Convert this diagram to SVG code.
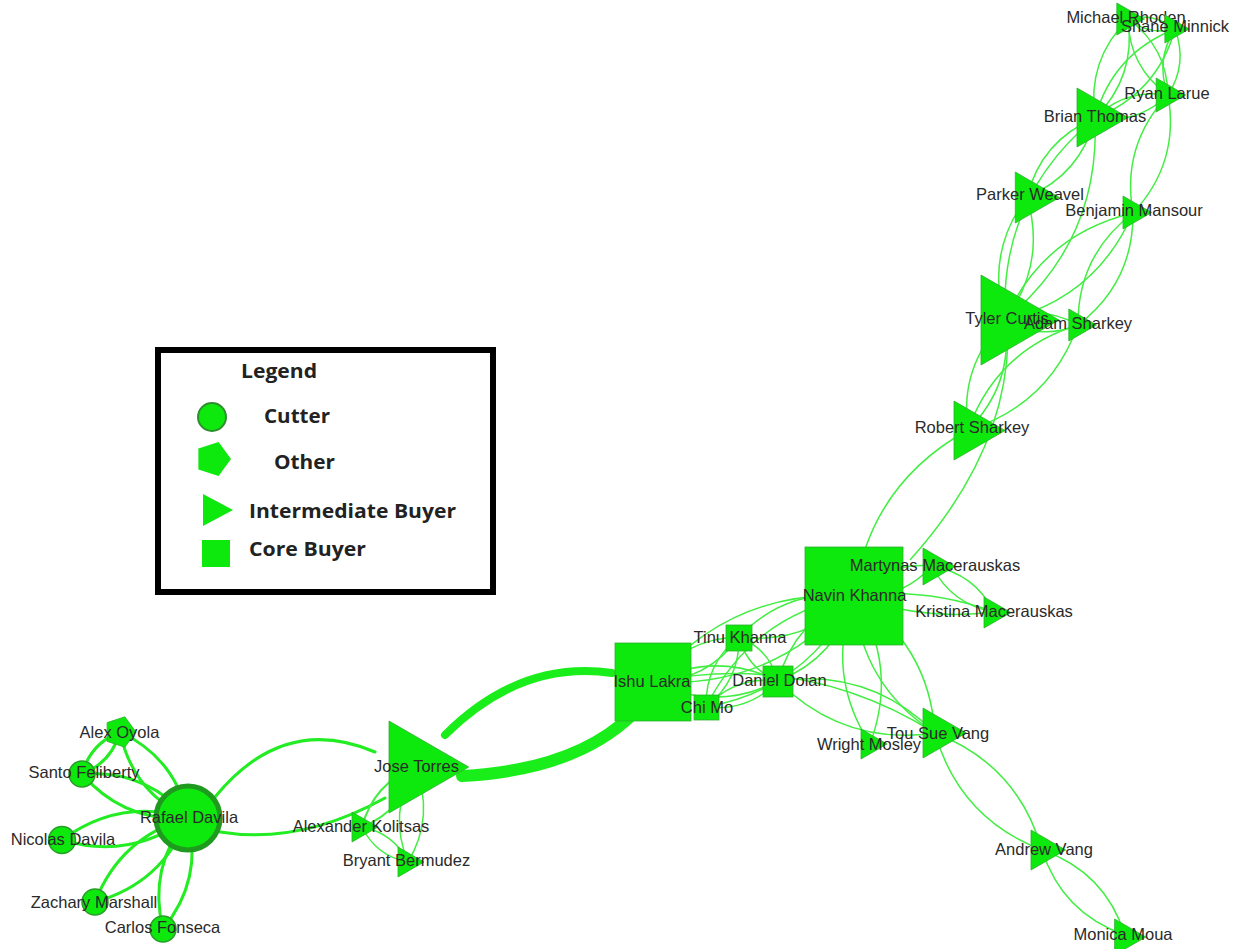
<svg xmlns="http://www.w3.org/2000/svg" width="1241" height="949" viewBox="0 0 1241 949">
<style>
.e{fill:none;stroke:#42ee42;stroke-width:1.5}
.e2{fill:none;stroke:#22ec22;stroke-width:3;stroke-linecap:round}
.e3{fill:none;stroke:#1aee1a;stroke-linecap:round}
.n{fill:#0de80d;stroke:#30b030;stroke-width:0.8}
.c{fill:#0de80d;stroke:#2a9c2a;stroke-width:1.5}
.t{font-family:"Liberation Sans",Arial,sans-serif;font-size:16.5px;fill:#2a2a2a;text-anchor:middle;dominant-baseline:central}
.lg{font-family:"Open Sans","Liberation Sans",sans-serif;font-weight:bold;font-size:20px;fill:#222}
</style>
<rect width="1241" height="949" fill="#ffffff"/>
<g id="connectors">
<path class="e" d="M1128 19 Q1149 35.75 1175 29"/>
<path class="e" d="M1128 19 Q1154 12.25 1175 29"/>
<path class="e" d="M1128 19 Q1129 67 1168 95"/>
<path class="e" d="M1128 19 Q1167 47 1168 95"/>
<path class="e" d="M1128 19 Q1086.75 60.25 1095 118"/>
<path class="e" d="M1128 19 Q1136.25 76.75 1095 118"/>
<path class="e" d="M1175 29 Q1155 60.25 1168 95"/>
<path class="e" d="M1175 29 Q1188 63.75 1168 95"/>
<path class="e" d="M1175 29 Q1112.75 53.5 1095 118"/>
<path class="e" d="M1175 29 Q1157.25 93.5 1095 118"/>
<path class="e" d="M1168 95 Q1125.75 88.25 1095 118"/>
<path class="e" d="M1168 95 Q1137.25 124.75 1095 118"/>
<path class="e" d="M1095 118 Q1041.25 140.5 1027 197"/>
<path class="e" d="M1095 118 Q1080.75 174.5 1027 197"/>
<path class="e" d="M1095 118 Q999.5 196.5 1005 320"/>
<path class="e" d="M1095 118 Q1100.5 241.5 1005 320"/>
<path class="e" d="M1168 95 Q1121 145.25 1133 213"/>
<path class="e" d="M1168 95 Q1180 162.75 1133 213"/>
<path class="e" d="M1133 213 Q1042.25 234.5 1005 320"/>
<path class="e" d="M1133 213 Q1095.75 298.5 1005 320"/>
<path class="e" d="M1133 213 Q1077.5 255.25 1078 325"/>
<path class="e" d="M1133 213 Q1133.5 282.75 1078 325"/>
<path class="e" d="M1027 197 Q985.25 253 1005 320"/>
<path class="e" d="M1027 197 Q1046.75 264 1005 320"/>
<path class="e" d="M1005 320 Q1040.25 340.75 1078 325"/>
<path class="e" d="M1005 320 Q1042.75 304.25 1078 325"/>
<path class="e" d="M1005 320 Q959 365.75 968 430"/>
<path class="e" d="M1005 320 Q1014 384.25 968 430"/>
<path class="e" d="M1078 325 Q996.75 350 968 430"/>
<path class="e" d="M1078 325 Q1049.25 405 968 430"/>
<path class="e" d="M968 430 Q869.5 484.5 854 596"/>
<path class="e" d="M1008 340 Q1005.5 454 910 560"/>
<path class="e" d="M854 596 Q900.5 600.5 932 566"/>
<path class="e" d="M854 596 Q885.5 561.5 932 566"/>
<path class="e" d="M854 596 Q922 621 994 612"/>
<path class="e" d="M854 596 Q926 587 994 612"/>
<path class="e" d="M932 566 Q951.5 604.5 994 612"/>
<path class="e" d="M932 566 Q974.5 573.5 994 612"/>
<path class="e" d="M854 596 Q786.25 587.75 739 637"/>
<path class="e" d="M854 596 Q806.75 645.25 739 637"/>
<path class="e" d="M854 596 Q794.75 619.5 778 681"/>
<path class="e" d="M854 596 Q837.25 657.5 778 681"/>
<path class="e" d="M854 596 Q732 588.75 653 682"/>
<path class="e" d="M854 596 Q775 689.25 653 682"/>
<path class="e" d="M854 596 Q752.25 614.5 706 707"/>
<path class="e" d="M854 596 Q807.75 688.5 706 707"/>
<path class="e" d="M854 596 Q825 674 870 744"/>
<path class="e" d="M854 596 Q899 666 870 744"/>
<path class="e" d="M854 596 Q860.25 684.75 935 733"/>
<path class="e" d="M854 596 Q928.75 644.25 935 733"/>
<path class="e" d="M653 682 Q707.25 681 739 637"/>
<path class="e" d="M653 682 Q684.75 638 739 637"/>
<path class="e" d="M653 682 Q715.75 712.75 778 681"/>
<path class="e" d="M653 682 Q715.25 650.25 778 681"/>
<path class="e" d="M739 637 Q747.5 668.75 778 681"/>
<path class="e" d="M739 637 Q769.5 649.25 778 681"/>
<path class="e" d="M739 637 Q705 663.75 706 707"/>
<path class="e" d="M739 637 Q740 680.25 706 707"/>
<path class="e" d="M778 681 Q735.5 676 706 707"/>
<path class="e" d="M778 681 Q748.5 712 706 707"/>
<path class="e" d="M653 682 Q804 651 935 733"/>
<path class="e" d="M778 681 Q843.5 746.25 935 733"/>
<path class="e" d="M778 681 Q869.5 667.75 935 733"/>
<path class="e" d="M935 733 Q959.25 818.25 1042 850"/>
<path class="e" d="M935 733 Q1017.75 764.75 1042 850"/>
<path class="e" d="M1042 850 Q1062.25 913.25 1125 935"/>
<path class="e" d="M1042 850 Q1104.75 871.75 1125 935"/>
<path class="e2" d="M188 818 Q175.5 758 120 732"/>
<path class="e2" d="M188 818 Q132.5 792 120 732"/>
<path class="e2" d="M188 818 Q146 769.5 82 774"/>
<path class="e2" d="M188 818 Q124 822.5 82 774"/>
<path class="e2" d="M188 818 Q119.5 797.5 62 840"/>
<path class="e2" d="M188 818 Q130.5 860.5 62 840"/>
<path class="e2" d="M188 818 Q120.5 836.75 95 902"/>
<path class="e2" d="M188 818 Q162.5 883.25 95 902"/>
<path class="e2" d="M188 818 Q147.75 867.25 163 929"/>
<path class="e2" d="M188 818 Q203.25 879.75 163 929"/>
<path class="e2" d="M120 732 Q90.5 743.5 82 774"/>
<path class="e2" d="M120 732 Q111.5 762.5 82 774"/>
<path class="e2" d="M215 797 Q283.65 713 375 752"/>
<path class="e2" d="M220 832 Q300 845 385 798"/>
<path class="e" style="stroke-width:2" d="M415 767 Q373.5 783.75 362 827"/>
<path class="e" style="stroke-width:2" d="M415 767 Q403.5 810.25 362 827"/>
<path class="e" d="M362 827 Q376.25 856 408 862"/>
<path class="e" d="M362 827 Q393.75 833 408 862"/>
<path class="e" d="M415 767 Q387.75 812.75 408 862"/>
<path class="e" d="M415 767 Q435.25 816.25 408 862"/>
<path class="e3" style="stroke-width:8" d="M445 735 Q520 660 612 673"/>
<path class="e3" style="stroke-width:12" d="M462 776 Q575 770 632 715"/>
</g>
<g id="legend">
<rect x="158" y="350" width="335" height="242" fill="#ffffff" stroke="#000000" stroke-width="6"/>
<text class="lg" x="241" y="378" textLength="76" lengthAdjust="spacingAndGlyphs">Legend</text>
<circle cx="212" cy="417" r="14" fill="#0de80d" stroke="#2d8f2d" stroke-width="2"/>
<text class="lg" x="264" y="423" textLength="66" lengthAdjust="spacingAndGlyphs">Cutter</text>
<polygon points="231,459 218.6,476.1 198.4,469.6 198.4,448.4 218.6,441.9" fill="#0de80d"/>
<text class="lg" x="274" y="469" textLength="61" lengthAdjust="spacingAndGlyphs">Other</text>
<polygon points="203,494 233,510 203,526" fill="#0de80d"/>
<text class="lg" x="249" y="518" textLength="207" lengthAdjust="spacingAndGlyphs">Intermediate Buyer</text>
<rect x="202" y="540" width="28" height="27" fill="#0de80d"/>
<text class="lg" x="249" y="556" textLength="117" lengthAdjust="spacingAndGlyphs">Core Buyer</text>
</g>
<g id="node-michael-rhoden"><polygon class="n" points="1116.8,3 1144.5,19 1116.8,35"/><text class="t" x="1126" y="17">Michael Rhoden</text></g>
<g id="node-shane-minnick"><polygon class="n" points="1164.9,15 1189.2,29 1164.9,43"/><text class="t" x="1175" y="26">Shane Minnick</text></g>
<g id="node-ryan-larue"><polygon class="n" points="1156.2,78 1185.6,95 1156.2,112"/><text class="t" x="1167" y="93">Ryan Larue</text></g>
<g id="node-brian-thomas"><polygon class="n" points="1077,88 1128.1,117.5 1077,147"/><text class="t" x="1095" y="116">Brian Thomas</text></g>
<g id="node-parker-weavel"><polygon class="n" points="1015.3,172 1059.4,197.5 1015.3,223"/><text class="t" x="1030" y="194">Parker Weavel</text></g>
<g id="node-benjamin-mansour"><polygon class="n" points="1123,196 1151.6,212.5 1123,229"/><text class="t" x="1134" y="210">Benjamin Mansour</text></g>
<g id="node-tyler-curtis"><polygon class="n" points="981,275 1059,320 981,365"/><text class="t" x="1007" y="318">Tyler Curtis</text></g>
<g id="node-adam-sharkey"><polygon class="n" points="1068.8,309 1096.5,325 1068.8,341"/><text class="t" x="1078" y="323">Adam Sharkey</text></g>
<g id="node-robert-sharkey"><polygon class="n" points="954,401 1005.1,430.5 954,460"/><text class="t" x="972" y="427">Robert Sharkey</text></g>
<g id="node-navin-khanna"><rect class="n" x="805" y="547" width="98" height="98"/><text class="t" x="854.5" y="595">Navin Khanna</text></g>
<g id="node-martynas-macerauskas"><polygon class="n" points="923,548 955.1,566.5 923,585"/><text class="t" x="935" y="565">Martynas Macerauskas</text></g>
<g id="node-kristina-macerauskas"><polygon class="n" points="984,597 1010.9,612.5 984,628"/><text class="t" x="994" y="611">Kristina Macerauskas</text></g>
<g id="node-ishu-lakra"><rect class="n" x="615" y="643" width="76" height="78"/><text class="t" x="652" y="681">Ishu Lakra</text></g>
<g id="node-tinu-khanna"><rect class="n" x="726" y="625" width="26" height="26"/><text class="t" x="740" y="637">Tinu Khanna</text></g>
<g id="node-chi-mo"><rect class="n" x="694" y="695" width="25" height="25"/><text class="t" x="707" y="707">Chi Mo</text></g>
<g id="node-daniel-dolan"><rect class="n" x="763" y="666" width="30" height="31"/><text class="t" x="779.5" y="680">Daniel Dolan</text></g>
<g id="node-wright-mosley"><polygon class="n" points="861,729 887,744 861,759"/><text class="t" x="869" y="744">Wright Mosley</text></g>
<g id="node-tou-sue-vang"><polygon class="n" points="923,708 966.3,733 923,758"/><text class="t" x="938" y="733">Tou Sue Vang</text></g>
<g id="node-andrew-vang"><polygon class="n" points="1031,830 1065.6,850 1031,870"/><text class="t" x="1044" y="849">Andrew Vang</text></g>
<g id="node-monica-moua"><polygon class="n" points="1114.6,919 1145.8,937 1114.6,955"/><text class="t" x="1123" y="934">Monica Moua</text></g>
<g id="node-jose-torres"><polygon class="n" points="389,721 468.7,767 389,813"/><text class="t" x="416.5" y="766">Jose Torres</text></g>
<g id="node-alexander-kolitsas"><polygon class="n" points="352,812 378,827 352,842"/><text class="t" x="361" y="826">Alexander Kolitsas</text></g>
<g id="node-bryant-bermudez"><polygon class="n" points="398,847 424,862 398,877"/><text class="t" x="406.5" y="860">Bryant Bermudez</text></g>
<g id="node-alex-oyola"><polygon class="n" points="136,732 124.9,747.2 107.1,741.4 107.1,722.6 124.9,716.8"/><text class="t" x="119.5" y="732">Alex Oyola</text></g>
<g id="node-santo-feliberty"><circle class="c" cx="82" cy="774" r="13"/><text class="t" x="84" y="772">Santo Feliberty</text></g>
<g id="node-nicolas-davila"><circle class="c" cx="62" cy="840" r="13.5"/><text class="t" x="63" y="839">Nicolas Davila</text></g>
<g id="node-zachary-marshall"><circle class="c" cx="95" cy="902" r="13"/><text class="t" x="94" y="902">Zachary Marshall</text></g>
<g id="node-carlos-fonseca"><circle class="c" cx="163" cy="929" r="13"/><text class="t" x="162.5" y="927">Carlos Fonseca</text></g>
<g id="node-rafael-davila"><circle cx="188" cy="818" r="32" fill="#0de80d" stroke="#1f9a1f" stroke-width="5"/><text class="t" x="189" y="817">Rafael Davila</text></g>
</svg>
